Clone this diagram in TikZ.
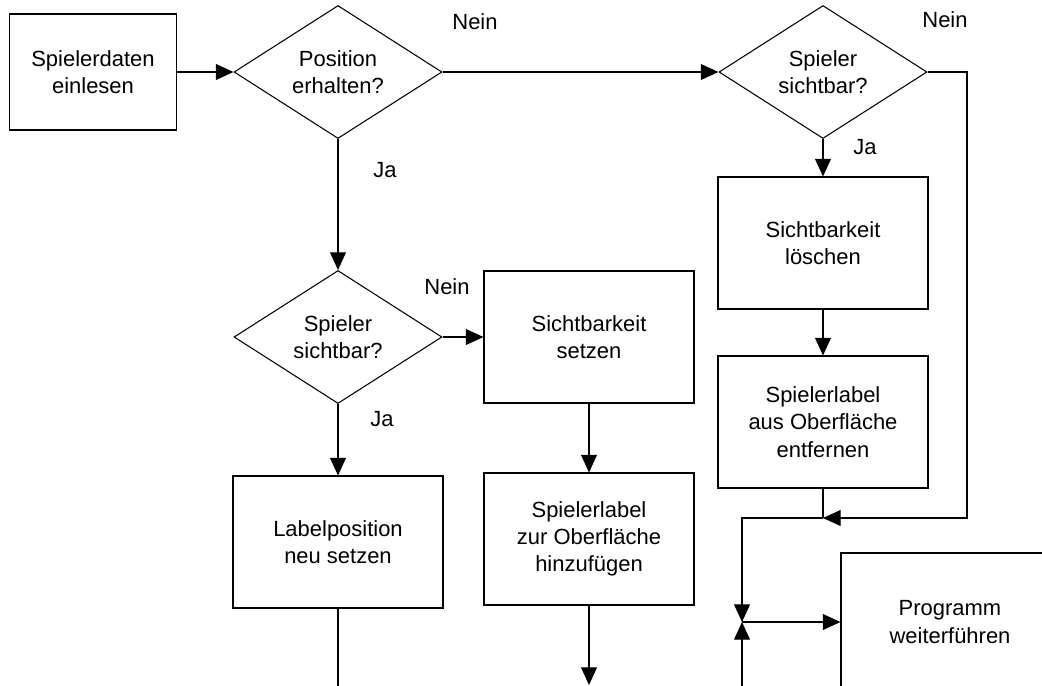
\documentclass[tikz,border=0pt]{standalone}
\usepackage{fontspec}
\setmainfont{Liberation Sans}
\usetikzlibrary{shapes.geometric,arrows.meta}

\begin{document}
\begin{tikzpicture}[
    line width=0.6pt,
    >={Triangle[length=10pt,width=9pt]},
    block/.style={draw, rectangle, minimum width=4.2cm, minimum height=2.64cm, align=center},
    decision/.style={draw, diamond, aspect=1.55, minimum width=4.16cm, minimum height=2.66cm, inner sep=0pt, align=center}]
\tikzstyle{every node}+=[font=\fontsize{12.5}{15.5}\selectfont]
\clip (0,0) rectangle (20.84,-13.70);
\node (daten)[block, minimum width=3.34cm, minimum height=2.32cm] at (1.86,-1.44) {Spielerdaten\\einlesen};
\node (pos)[decision, right of=daten, node distance=4.9cm] {Position\\erhalten?};
\node (sicht2)[decision, right of=pos, node distance=9.7cm] {Spieler\\sichtbar?};
\node (loeschen)[block, below of=sicht2, node distance=3.42cm] {Sichtbarkeit\\löschen};
\node (entfernen)[block, below of=loeschen, node distance=3.58cm] {Spielerlabel\\aus Oberfläche\\entfernen};
\node (sicht3)[decision, below of=pos, node distance=5.3cm] {Spieler\\sichtbar?};
\node (setzen)[block, right of=sicht3, node distance=5.02cm] {Sichtbarkeit\\setzen};
\node (hinzu)[block, below of=setzen, node distance=4.04cm] {Spielerlabel\\zur Oberfläche\\hinzufügen};
\node (labelpos)[block, below of=sicht3, node distance=4.1cm] {Labelposition\\neu setzen};
\node (weiter)[block, minimum width=4.36cm, minimum height=2.76cm] at (19.0,-12.44) {Programm\\weiterführen};

\coordinate (j1) at (entfernen.south |- 0,-10.36);
\coordinate (j2) at (weiter.west -| 14.84,0);
\coordinate (ende1) at (hinzu.south |- 0,-13.70);
\coordinate (ende2) at (labelpos.south |- 0,-13.90);
\coordinate (ende3) at (14.84,-13.90);

% oberer Zweig
\draw[->] (daten) -- (pos);
\draw[->] (pos) -- (sicht2);
\draw[->] (sicht2) -- (loeschen);
\draw[->] (loeschen) -- (entfernen);
\draw (entfernen) -- (j1);
\draw[->] (sicht2.east) -- (sicht2.east -| 19.34,0) -- (19.34,-10.36) -- (j1);
\draw[->] (j1) -- (14.84,-10.36) -- (j2);
\draw[->] (ende3) -- (j2);
\draw[->] (j2) -- (weiter);

% linker Zweig
\draw[->] (pos) -- (sicht3);
\draw[->] (sicht3) -- (setzen);
\draw[->] (sicht3) -- (labelpos);
\draw[->] (setzen) -- (hinzu);
\draw[->] (hinzu) -- (ende1);
\draw (labelpos) -- (ende2);

\node (nein1) at (9.50,-0.44) {Nein};
\node (nein2) at (18.90,-0.40) {Nein};
\node (nein3) at (8.94,-5.74) {Nein};
\node (ja1) at (7.70,-3.40) {Ja};
\node (ja2) at (17.30,-2.94) {Ja};
\node (ja3) at (7.64,-8.38) {Ja};
\end{tikzpicture}
\end{document}
